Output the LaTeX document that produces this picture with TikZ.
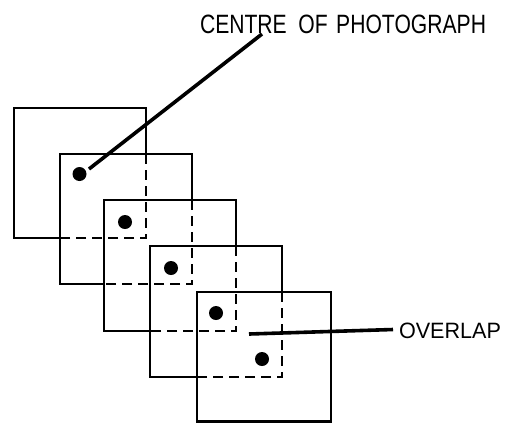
\documentclass[tikz,border=0pt]{standalone}
\usepackage{fontspec}
\setmainfont{Liberation Sans}
\usetikzlibrary{fit}
\begin{document}
\begin{tikzpicture}[x=1bp,y=-1bp,
  photo/.style={draw, line width=2.8bp, fill=white, inner sep=0pt, outer sep=0pt},
  hidden/.style={line width=2.8bp, dash pattern=on 10bp off 6bp},
  centre/.style={circle, fill, inner sep=0pt, minimum size=14bp},
  leader/.style={line width=3.6bp},
  lbl/.style={inner sep=0pt, outer sep=0pt}]
\useasboundingbox[fill=white] (0,0) rectangle (505,423);
% photographs
\node[photo, fit={(14,108) (146,238)}] (f1) {};
\node[photo, fit={(60,154) (192,284)}] (f2) {};
\node[photo, fit={(104,200) (236,331)}] (f3) {};
\node[photo, fit={(150,246) (282,377)}] (f4) {};
\node[photo, fit={(197,292) (331,421.5)}] (f5) {};
% hidden edges of overlapped photographs
\draw[hidden] (f1.east |- f2.north) -- (f1.south east) -- (f1.south -| f2.west);
\draw[hidden] (f2.east |- f3.north) -- (f2.south east) -- (f2.south -| f3.west);
\draw[hidden] (f3.east |- f4.north) -- (f3.south east) -- (f3.south -| f4.west);
\draw[hidden] (f4.east |- f5.north) -- (f4.south east) -- (f4.south -| f5.west);
% centres
\node[centre] (d1) at (79.5,174) {};
\node[centre] (d2) at (125,222) {};
\node[centre] (d3) at (171,268) {};
\node[centre] (d4) at (216,313) {};
\node[centre] (d5) at (262,359) {};
% labels
\node[lbl, anchor=south west] (lc) at (200,33.5) {\resizebox{286bp}{18.5bp}{CENTRE\hspace{0.55em}OF\hspace{0.4em}PHOTOGRAPH}};
\node[lbl, anchor=west] (lo) at (399,330.5) {\resizebox{102bp}{15.5bp}{OVERLAP}};
% leaders
\coordinate (c1a) at (89,169);
\coordinate (c1b) at (262,34);
\draw[leader] (c1a) -- (c1b);
\coordinate (c2a) at (249,334);
\coordinate (c2b) at (393,329.5);
\draw[leader] (c2a) -- (c2b);
\end{tikzpicture}
\end{document}
